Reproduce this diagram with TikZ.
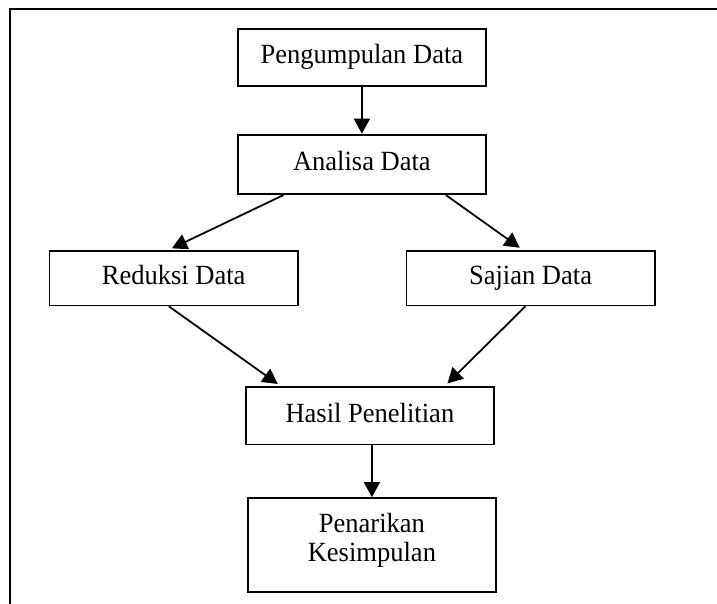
\documentclass[tikz,border=0pt]{standalone}
\usepackage{fontspec}
\setmainfont{Liberation Serif}[FakeStretch=0.955]
\usepackage{tikz}
\usetikzlibrary{positioning}
\usetikzlibrary{arrows.meta}

\begin{document}
\begin{tikzpicture}[x=0.45pt, y=-0.45pt,
	block/.style={draw, rectangle, line width=0.8pt, minimum width=111.7pt, align=center, text height=8.6pt, text depth=2.7pt, font=\fontsize{12.5}{13.2}\selectfont},
	arrow/.style={line width=0.8pt, -{Triangle[length=6.8pt,width=7.2pt]}}]
			\useasboundingbox (0,0) rectangle (717,604);
			\draw[line width=0.9pt] (10,615) |- (730,9);
			\node (pengumpulan) [block, minimum height=25.5pt] at (361.9,57.4) {Pengumpulan Data}
			node (analisa)   [block, minimum height=26.8pt, below=21.2pt of pengumpulan]              {Analisa Data}
			node (reduksi)   [block, minimum height=24.5pt, below left=24.75pt and -27.8pt of analisa]  {Reduksi Data}
			node (sajian)    [block, minimum height=24.5pt, below right=24.75pt and -36.6pt of analisa] {Sajian Data};
			\coordinate (tengah) at (analisa.south |- reduksi.south);
			\node (hasil) [block, minimum height=25.8pt, below=36pt of tengah, xshift=3.6pt] {Hasil Penelitian}
			node (penarikan) [block, minimum height=42.4pt, text height={}, text depth=7.3pt, below=23.3pt of hasil, xshift=0.9pt] {Penarikan\\Kesimpulan};
			\path (pengumpulan) edge[arrow] (analisa)
				(hasil.south -| penarikan) edge[arrow] (penarikan.north);
			\draw[arrow, shorten >=1.8pt] ([xshift=-35.3pt]analisa.south) -- ([xshift=-2.4pt]reduksi.north);
			\draw[arrow, shorten >=1.8pt] ([xshift=37.8pt]analisa.south) -- ([xshift=-3.4pt]sajian.north);
			\draw[arrow, shorten >=1.8pt] ([xshift=-2.2pt]reduksi.south) -- ([xshift=-40pt]hasil.north);
			\draw[arrow, shorten >=1.8pt] ([xshift=-2.3pt]sajian.south) -- ([xshift=33.6pt]hasil.north);
\end{tikzpicture}
\end{document}
